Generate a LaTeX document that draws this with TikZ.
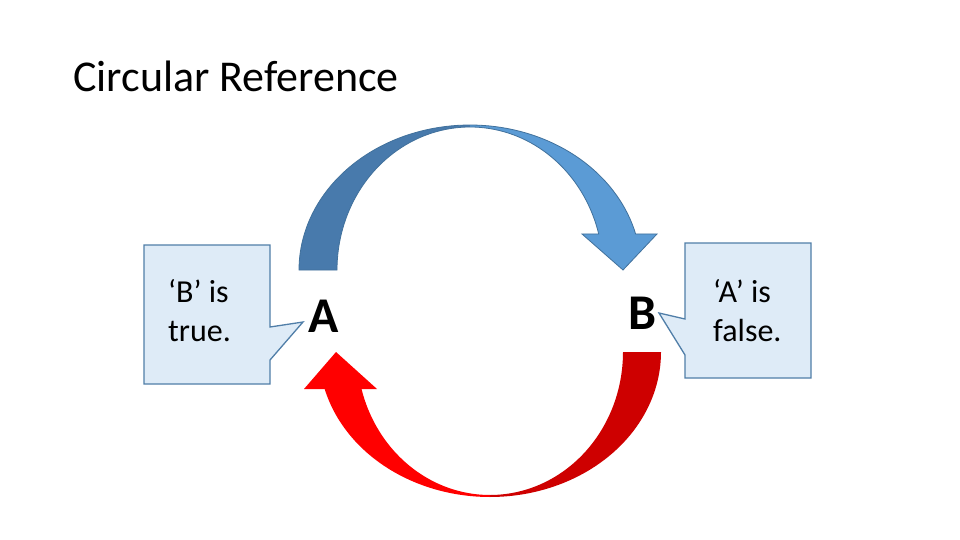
\documentclass[tikz,border=0pt]{standalone}
\usepackage{fontspec}
\setmainfont{Carlito}
\newfontfamily\carlito{Carlito}
\definecolor{bluedark}{RGB}{72,122,172}
\definecolor{bluelight}{RGB}{91,155,213}
\definecolor{blueline}{RGB}{65,113,156}
\definecolor{redbright}{RGB}{255,0,0}
\definecolor{reddark}{RGB}{206,0,0}
\definecolor{calloutfill}{RGB}{222,235,247}
\definecolor{calloutline}{RGB}{80,126,168}
\tikzset{
  calloutshape/.style={fill=calloutfill, draw=calloutline, line width=1.3pt, line join=miter},
  callouttext/.style={anchor=base west, inner sep=0pt, font=\carlito\fontsize{32}{38}\selectfont},
  bigletter/.style={anchor=base, inner sep=0pt, font=\carlito\bfseries\fontsize{50}{60}\selectfont},
  titletext/.style={anchor=base west, inner sep=0pt, font=\carlito\fontsize{44}{52}\selectfont}
}
\begin{document}
\begin{tikzpicture}[x=1pt,y=-1pt]
\useasboundingbox (0,0) rectangle (960,540);
\fill[white] (0,0) rectangle (960,540);

% title
\node[titletext] (title) at (73,92) {Circular Reference};

% top blue curved arrow
\fill[bluedark] plot[domain=180:270,samples=50] ({470+171*cos(\x)},{270+145*sin(\x)})
  -- plot[domain=270:180,samples=50] ({470+133*cos(\x)},{270+143*sin(\x)}) -- cycle;
\fill[bluelight] plot[domain=270:345.6,samples=50] ({470+171*cos(\x)},{270+145*sin(\x)})
  -- (657,234) -- (623,270) -- (582,234)
  -- plot[domain=345.4:270,samples=50] ({470+133*cos(\x)},{270+143*sin(\x)}) -- cycle;
\draw[blueline, line width=0.8pt, line join=miter] plot[domain=180:345.6,samples=80] ({470+171*cos(\x)},{270+145*sin(\x)})
  -- (657,234) -- (623,270) -- (582,234)
  -- plot[domain=345.4:180,samples=80] ({470+133*cos(\x)},{270+143*sin(\x)}) -- cycle;

% bottom red curved arrow
\fill[reddark] plot[domain=0:90,samples=50] ({490+171*cos(\x)},{352+145*sin(\x)})
  -- plot[domain=90:0,samples=50] ({490+133*cos(\x)},{352+143*sin(\x)}) -- cycle;
\fill[redbright] plot[domain=90:165.2,samples=50] ({490+171*cos(\x)},{352+145*sin(\x)})
  -- (304,389) -- (336,352) -- (377,389)
  -- plot[domain=165:90,samples=50] ({490+133*cos(\x)},{352+143*sin(\x)}) -- cycle;

% callouts
\draw[calloutshape] (144,245) -- (270,245) -- (270,327) -- (303,322) -- (270,360) -- (270,384) -- (144,384) -- cycle;
\draw[calloutshape] (685,243) -- (811,243) -- (811,378) -- (685,378) -- (685,355) -- (659,313) -- (685,319) -- cycle;

\node[callouttext] (b1) at (168,302) {‘B’ is};
\node[callouttext] (b2) at (168,341) {true.};
\node[callouttext] (a1) at (713,302) {‘A’ is};
\node[callouttext] (a2) at (713,341) {false.};

% letters
\node[bigletter] (A) at (324,332) {A};
\node[bigletter] (B) at (643,329) {B};
\end{tikzpicture}
\end{document}
